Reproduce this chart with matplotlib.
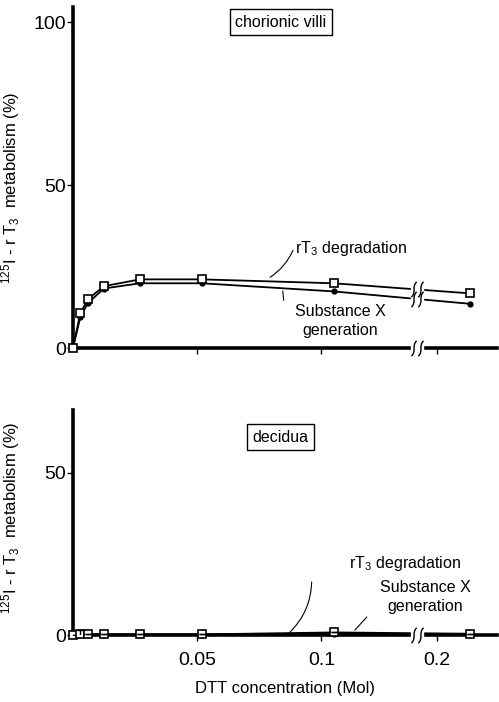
import numpy as np
import matplotlib.pyplot as plt
from matplotlib.path import Path

plt.rcParams['font.family'] = ['Liberation Sans', 'DejaVu Sans']
plt.rcParams['mathtext.fontset'] = 'custom'
plt.rcParams['mathtext.rm'] = 'Liberation Sans'

# --- DATA ---
dtt = [0.0, 0.003, 0.006, 0.0125, 0.027, 0.052, 0.105, 0.25]
villi_rt3 = [0.0, 10.7, 15.0, 19.0, 21.1, 21.1, 19.9, 16.8]
villi_subx = [0.0, 9.5, 13.8, 18.3, 19.9, 19.9, 17.4, 13.6]
decidua_rt3 = [0.0, 0.3, 0.2, 0.2, 0.2, 0.2, 0.8, 0.4]
decidua_subx = [0.0, 0.0, 0.0, 0.0, 0.0, 0.0, 0.4, 0.2]
decidua_err = [0.0, 1.2, 0.0, 0.0, 0.0, 0.0, 0.0, 0.0]
xticks = [0.05, 0.1, 0.2]
xtick_labels = ['0.05', '0.1', '0.2']

# --- broken x axis: linear up to the break, then compressed ---
B0, B1, K = 0.14, 0.1847, 0.268
C0 = 0.14 + (B1 - B0) * 0.0545


def fwd(x):
    x = np.asarray(x, dtype=float)
    return np.where(x <= B0, x,
                    np.where(x <= B1, B0 + (x - B0) * 0.0545, C0 + (x - B1) * K))


def inv(u):
    u = np.asarray(u, dtype=float)
    return np.where(u <= B0, u,
                    np.where(u <= C0, B0 + (u - B0) / 0.0545, B1 + (u - C0) / K))


XBREAK = 0.1385

# break glyph: two slanted S strokes
s = [(-0.35, -1.0), (0.35, -0.4), (-0.35, 0.4), (0.35, 1.0)]
verts, codes = [], []
for dx in (-0.45, 0.45):
    verts += [(x + dx, y) for x, y in s]
    codes += [Path.MOVETO, Path.CURVE4, Path.CURVE4, Path.CURVE4]
BREAK = Path(verts, codes)

YLABEL = r'$\mathregular{^{125}}$I - r T$\mathregular{_3}$  metabolism (%)'


def draw_break(ax, y):
    ax.plot([XBREAK], [y], marker='s', ms=8, mfc='white', mec='white',
            zorder=5, clip_on=False)
    ax.plot([XBREAK], [y], marker=BREAK, ms=11, mfc='none', mec='black',
            mew=1.0, zorder=6, clip_on=False)


def style_axes(ax, ymax, yticks, show_xlabels, ylab_y):
    ax.set_xscale('function', functions=(fwd, inv))
    ax.set_xlim(0, 0.29)
    ax.set_ylim(0, ymax)
    ax.spines['top'].set_visible(False)
    ax.spines['right'].set_visible(False)
    ax.spines['left'].set_linewidth(2.6)
    ax.spines['bottom'].set_linewidth(2.6)
    ax.set_yticks(yticks)
    ax.set_xticks(xticks)
    ax.set_xticks([], minor=True)
    ax.set_xticklabels(xtick_labels if show_xlabels else [])
    ax.tick_params(axis='both', direction='out', length=4, width=1.0,
                   labelsize=14)
    ax.tick_params(axis='x', pad=8)
    ax.tick_params(axis='y', pad=1)
    ax.set_ylabel(YLABEL, fontsize=12)
    ax.yaxis.set_label_coords(-0.12, ylab_y)
    draw_break(ax, 0)


def series(ax, y_open, y_filled, err=None):
    ax.plot(dtt, y_filled, '-', color='black', lw=1.3, marker='o', ms=3.5,
            mfc='black', mec='black', zorder=3, clip_on=False)
    ax.plot(dtt, y_open, '-', color='black', lw=1.3, marker='s', ms=5.5,
            mfc='white', mec='black', mew=1.2, zorder=4, clip_on=False)
    if err is not None:
        ax.errorbar(dtt, y_open, yerr=err, fmt='none', ecolor='black',
                    elinewidth=1.0, capsize=2.5, zorder=4)


def label_box(ax, text, x, y):
    ax.text(x, y, text, transform=ax.transAxes, ha='center', va='center',
            fontsize=11.5,
            bbox=dict(boxstyle='square,pad=0.35', fc='white', ec='black', lw=1.0))


fig = plt.figure(figsize=(4.99, 7.02), dpi=100)
ax1 = fig.add_axes([0.146, 0.504, 0.85, 0.486])
ax2 = fig.add_axes([0.146, 0.0954, 0.85, 0.3205])

# --- top: chorionic villi ---
series(ax1, villi_rt3, villi_subx)
style_axes(ax1, 104.6, [0, 50, 100], False, 0.47)
ax1.set_yticklabels(['0', '50', '100'])
y_r = np.interp(fwd(XBREAK), fwd(dtt[-2:]), villi_rt3[-2:])
y_s = np.interp(fwd(XBREAK), fwd(dtt[-2:]), villi_subx[-2:])
draw_break(ax1, y_r)
draw_break(ax1, y_s)
label_box(ax1, 'chorionic villi', 0.49, 0.955)
ax1.text(0.523, 0.293, r'r$\mathregular{T_3}$ degradation', transform=ax1.transAxes,
         fontsize=11.5, va='center')
ax1.annotate('', xy=(0.465, 0.208), xycoords='axes fraction',
             xytext=(0.519, 0.287), textcoords='axes fraction',
             arrowprops=dict(arrowstyle='-', lw=0.8, shrinkA=0, shrinkB=0,
                             connectionstyle='arc3,rad=-0.15'))
ax1.text(0.63, 0.079, 'Substance X\ngeneration', transform=ax1.transAxes,
         fontsize=11.5, va='center', ha='center', linespacing=1.35)
ax1.plot([0.495, 0.497], [0.167, 0.141], transform=ax1.transAxes,
         color='black', lw=0.8)

# --- bottom: decidua ---
series(ax2, decidua_rt3, decidua_subx, decidua_err)
style_axes(ax2, 69.4, [0, 50], True, 0.52)
ax2.set_yticklabels(['0', '50'])
label_box(ax2, 'decidua', 0.49, 0.88)
ax2.set_xlabel('DTT concentration (Mol)', fontsize=12)
ax2.xaxis.set_label_coords(0.5, -0.205)
ax2.text(0.783, 0.32, r'r$\mathregular{T_3}$ degradation', transform=ax2.transAxes,
         fontsize=11.5, va='center', ha='center')
ax2.text(0.83, 0.169, 'Substance X\ngeneration', transform=ax2.transAxes,
         fontsize=11.5, va='center', ha='center', linespacing=1.35)
ax2.annotate('', xy=(0.512, 0.013), xycoords='axes fraction',
             xytext=(0.563, 0.236), textcoords='axes fraction',
             arrowprops=dict(arrowstyle='-', lw=0.8, shrinkA=0, shrinkB=0,
                             connectionstyle='arc3,rad=-0.2'))
ax2.annotate('', xy=(0.665, 0.022), xycoords='axes fraction',
             xytext=(0.693, 0.08), textcoords='axes fraction',
             arrowprops=dict(arrowstyle='-', lw=0.8, shrinkA=0, shrinkB=0))

fig.savefig('out.png', dpi=100)
